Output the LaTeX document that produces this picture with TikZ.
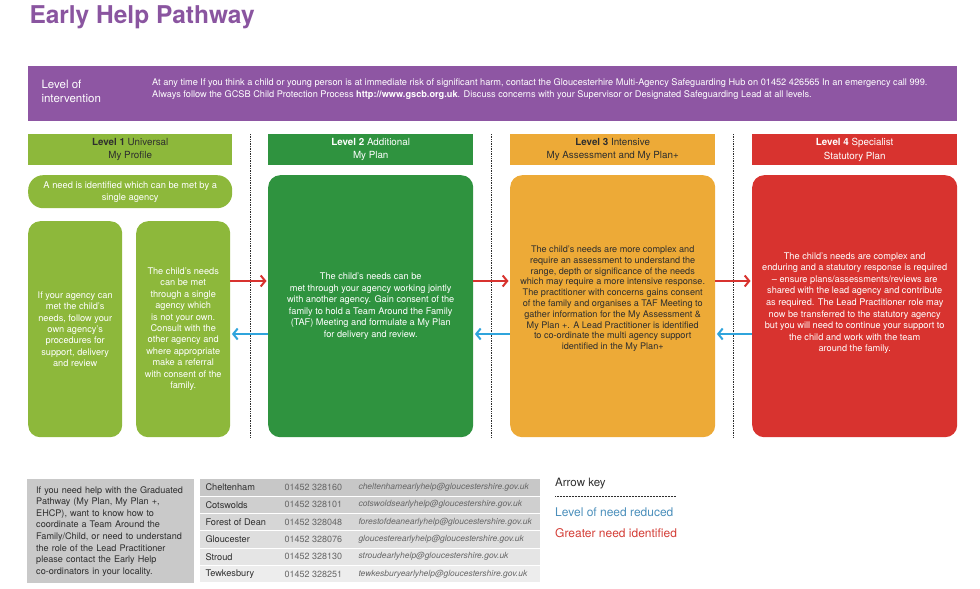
\documentclass[tikz,border=0pt]{standalone}
\usepackage{fontspec}
\setmainfont{TeX Gyre Heros}
\usetikzlibrary{arrows.meta,calc}

\definecolor{ehtitle}{HTML}{8A55A0}
\definecolor{ehpurple}{HTML}{8E56A3}
\definecolor{ehlime}{HTML}{8DB83B}
\definecolor{ehgreen}{HTML}{2F933F}
\definecolor{ehorange}{HTML}{EDAA37}
\definecolor{ehred}{HTML}{D8332F}
\definecolor{ehblue}{HTML}{2FA4DC}
\definecolor{ehdark}{HTML}{2E2E2E}
\definecolor{ehgrey}{HTML}{C9C9C9}
\definecolor{keyblue}{HTML}{4B8FBB}
\definecolor{keyred}{HTML}{D33D36}

\begin{document}
\begin{tikzpicture}[x=1pt,y=-1pt,
  head/.style={anchor=north west,inner sep=0pt,align=center,minimum width=205pt,minimum height=31pt,font=\fontsize{9.8}{13.5}\selectfont},
  box/.style={anchor=north west,inner sep=0pt,align=center,rounded corners=12pt,font=\fontsize{9.2}{11.6}\selectfont},
  uparrow/.style={draw=ehred,line width=2.6pt,shorten >=1.5pt,-{Straight Barb[length=4.5pt,width=11pt,line width=2pt]}},
  downarrow/.style={draw=ehblue,line width=2.6pt,shorten >=1.5pt,-{Straight Barb[length=4.5pt,width=11pt,line width=2pt]}},
  divider/.style={draw=ehdark,densely dotted,line width=0.7pt},
  tablerow/.style={anchor=north west,inner sep=0pt,minimum width=340pt,minimum height=16.4pt}]
  \useasboundingbox (0,0) rectangle (980,589);

  \node[anchor=west,text=ehtitle,font=\fontsize{24.5}{30}\bfseries] (title) at (26,17) {Early Help Pathway};

  \node[anchor=north west,fill=ehpurple,minimum width=929pt,minimum height=55pt,inner sep=0pt] (bar) at (28,66) {};
  \node[anchor=west,text=white,align=left,font=\fontsize{11.5}{14}\selectfont] (lvl) at (38,91) {Level of\\intervention};
  \node[anchor=west,text=white,align=left,inner sep=0pt,font=\fontsize{9.2}{12}\selectfont] (alert) at (152,89)
    {At any time If you think a child or young person is at immediate risk of significant harm, contact the Gloucesterhire Multi-Agency Safeguarding Hub on 01452 426565 In an emergency call 999.\\
     Always follow the GCSB Child Protection Process \textbf{http://www.gscb.org.uk}. Discuss concerns with your Supervisor or Designated Safeguarding Lead at all levels.};

  \node[head,fill=ehlime,text=ehdark,minimum width=204pt] (h1) at (28,134) {\textbf{Level 1} Universal\\My Profile};
  \node[head,fill=ehgreen,text=white] (h2) at (268,134) {\textbf{Level 2} Additional\\My Plan};
  \node[head,fill=ehorange,text=ehdark] (h3) at (510,134) {\textbf{Level 3} Intensive\\My Assessment and My Plan+};
  \node[head,fill=ehred,text=white] (h4) at (752,134) {\textbf{Level 4} Specialist\\Statutory Plan};

  \node[box,fill=ehlime,text=white,rounded corners=15pt,minimum width=204pt,minimum height=33pt,font=\fontsize{9.3}{12}\selectfont] (need) at (28,175)
    {A need is identified which can be met by a\\single agency};
  \node[box,fill=ehlime,text=white,minimum width=94pt,minimum height=216pt,font=\fontsize{9.2}{11.4}\selectfont] (own) at (28,221)
    {If your agency can\\met the child's\\needs, follow your\\own agency's\\procedures for\\support, delivery\\and review};
  \node[box,fill=ehlime,text=white,minimum width=94pt,minimum height=216pt,font=\fontsize{9.2}{11.4}\selectfont] (single) at (136,221)
    {The child's needs\\can be met\\through a single\\agency which\\is not your own.\\Consult with the\\other agency and\\where appropriate\\make a referral\\with consent of the\\family.};
  \node[box,fill=ehgreen,text=white,minimum width=205pt,minimum height=262pt] (plan) at (268,175)
    {The child's needs can be\\met through your agency working jointly\\with another agency. Gain consent of the\\family to hold a Team Around the Family\\(TAF) Meeting and formulate a My Plan\\for delivery and review.};
  \node[box,fill=ehorange,text=ehdark,minimum width=205pt,minimum height=262pt,font=\fontsize{9.1}{10.8}\selectfont] (assess) at (510,175)
    {The child's needs are more complex and\\require an assessment to understand the\\range, depth or significance of the needs\\which may require a more intensive response.\\The practitioner with concerns gains consent\\of the family and organises a TAF Meeting to\\gather information for the My Assessment \&\\My Plan +. A Lead Practitioner is identified\\to co-ordinate the multi agency support\\identified in the My Plan+\\[6pt]};
  \node[box,fill=ehred,text=white,minimum width=205pt,minimum height=262pt] (statutory) at (752,175)
    {The child's needs are complex and\\enduring and a statutory response is required\\-- ensure plans/assessments/reviews are\\shared with the lead agency and contribute\\as required. The Lead Practitioner role may\\now be transferred to the statutory agency\\but you will need to continue your support to\\the child and work with the team\\around the family.\\[-3.5pt]};

  \foreach \a/\b [count=\k] in {h1/h2,h2/h3,h3/h4} {
    \coordinate (gap\k) at ($(\a.north east)!.5!(\b.north west)$);
    \draw[divider] (gap\k) -- (gap\k |- plan.south);
  }

  \coordinate (up) at (0,281);
  \coordinate (down) at (0,334);
  \draw[uparrow] (single.east |- up) -- (plan.west |- up);
  \draw[uparrow] (plan.east |- up) -- (assess.west |- up);
  \draw[uparrow] (assess.east |- up) -- (statutory.west |- up);
  \draw[downarrow] (plan.west |- down) -- (single.east |- down);
  \draw[downarrow] (assess.west |- down) -- (plan.east |- down);
  \draw[downarrow] (statutory.west |- down) -- (assess.east |- down);

  \node[anchor=north west,fill=ehgrey,text=ehdark,align=left,text width=149pt,inner xsep=9pt,minimum height=104pt,font=\fontsize{9.1}{11.6}\selectfont] (help) at (27,479)
    {If you need help with the Graduated\\Pathway (My Plan, My Plan +,\\EHCP), want to know how to\\coordinate a Team Around the\\Family/Child, or need to understand\\the role of the Lead Practitioner\\please contact the Early Help\\co-ordinators in your locality.};

  \foreach \place/\tel/\mail [count=\i] in {Cheltenham/328160/cheltenhamearlyhelp@gloucestershire.gov.uk,
      Cotswolds/328101/cotswoldsearlyhelp@gloucestershire.gov.uk,
      Forest of Dean/328048/forestofdeanearlyhelp@gloucestershire.gov.uk,
      Gloucester/328076/gloucesterearlyhelp@gloucestershire.gov.uk,
      Stroud/328130/stroudearlyhelp@gloucestershire.gov.uk,
      Tewkesbury/328251/tewkesburyearlyhelp@gloucestershire.gov.uk} {
    \pgfmathsetmacro{\shade}{25-3*\i}
    \node[tablerow,fill=black!\shade] (row\i) at (200,479+17.33*\i-17.33) {};
    \node[anchor=west,text=ehdark,font=\fontsize{9.2}{10}\selectfont] (place\i) at ([xshift=2pt]row\i.west) {\place};
    \node[anchor=west,text=black!60,font=\fontsize{9}{10}\selectfont] (tel\i) at ([xshift=81pt]row\i.west) {01452 \tel};
    \node[anchor=west,text=black!60,font=\fontsize{8.5}{10}\itshape] (mail\i) at ([xshift=155pt]row\i.west) {\mail};
  }

  \node[anchor=west,inner sep=0pt,text=ehdark,font=\fontsize{11.5}{13}\selectfont] (key) at (555,484) {Arrow key};
  \draw[divider,line width=0.5pt] ([yshift=-7pt]key.south west) -- ++(121,0);
  \node[anchor=west,inner sep=0pt,text=keyblue,font=\fontsize{12}{14}\selectfont] (reduced) at (555,512) {Level of need reduced};
  \node[anchor=west,inner sep=0pt,text=keyred,font=\fontsize{12}{14}\selectfont] (greater) at (555,533) {Greater need identified};
\end{tikzpicture}
\end{document}
